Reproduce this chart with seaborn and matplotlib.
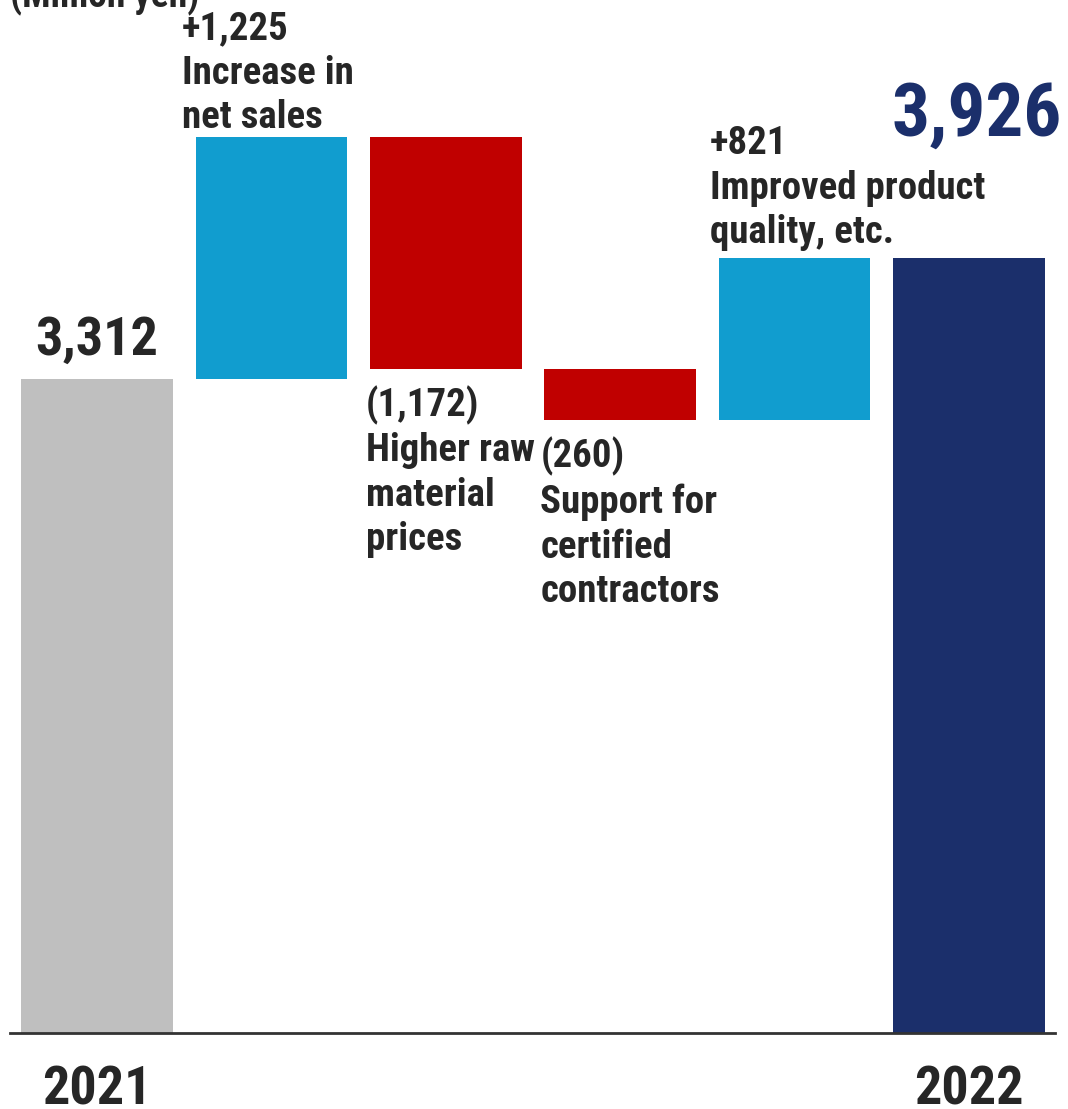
import matplotlib
matplotlib.use("Agg")
import matplotlib.pyplot as plt
import seaborn as sns
from matplotlib import font_manager

# Operating income bridge, FY2021 -> FY2022 (million yen)
steps = ["2021", "Increase in net sales", "Higher raw material prices",
         "Support for certified contractors", "Improved product quality, etc.", "2022"]
start_value = 3312
changes = [1225, -1172, -260, 821]
end_value = 3926
change_captions = ["Increase in\nnet sales", "Higher raw\nmaterial\nprices",
                   "Support for\ncertified\ncontractors", "Improved product\nquality, etc."]
tick_labels = ["2021", "", "", "", "", "2022"]
unit_label = "(Million yen)"

bar_colors = ["#BFBFBF", "#119DCF", "#C00000", "#C00000", "#119DCF", "#1B2F6B"]
text_color = "#262626"
total_color = "#1B2F6B"

sns.set_theme(style="white")
available = {f.name for f in font_manager.fontManager.ttflist}
narrow = [n for n in ["Roboto Condensed", "Archivo Narrow", "Asap Condensed",
                      "Barlow Semi Condensed"] if n in available]
plt.rcParams["font.family"] = narrow[:1] + ["DejaVu Sans"]
plt.rcParams["font.weight"] = "bold"

# Floating bar extents
bottoms, heights = [0], [start_value]
level = start_value
for c in changes:
    new_level = level + c
    bottoms.append(min(level, new_level))
    heights.append(abs(c))
    level = new_level
bottoms.append(0)
heights.append(end_value)

fig = plt.figure(figsize=(10.68, 11.09), dpi=100)
ax = fig.add_axes([10 / 1068, 76 / 1109, 1045 / 1068, 1033 / 1109])

sns.barplot(x=steps, y=heights, bottom=bottoms, color=bar_colors[0],
            facecolor=bar_colors, saturation=1,
            width=0.87, errorbar=None, linewidth=0, edgecolor="none", ax=ax)

ax.set_xlim(-0.499, 5.493)
ax.set_ylim(0, 5232)
ax.set_yticks([])
ax.set_ylabel("")
for s in ["left", "right", "top"]:
    ax.spines[s].set_visible(False)
ax.spines["bottom"].set_color("#333333")
ax.spines["bottom"].set_linewidth(2)
ax.set_xticks(range(len(steps)))
ax.set_xticklabels(tick_labels, fontsize=39, color=text_color, fontweight="bold")
ax.tick_params(axis="x", length=0, pad=23)

half = 0.87 / 2
body = dict(fontsize=28, color=text_color, fontweight="bold", linespacing=1.25)

# Start and end totals
ax.annotate(f"{start_value:,}", xy=(0, start_value), xytext=(0, 24),
            textcoords="offset pixels", ha="center", va="baseline",
            fontsize=39, color=text_color, fontweight="bold")
ax.annotate(f"{end_value:,}", xy=(5, end_value), xytext=(8, 122),
            textcoords="offset pixels", ha="center", va="baseline",
            fontsize=54, color=total_color, fontweight="bold")

# Change captions
level = start_value
for i, (c, cap) in enumerate(zip(changes, change_captions), start=1):
    new_level = level + c
    left = i - half
    if c > 0:
        dx, dy = (-14, 1) if i == 1 else (-9, 7)
        ax.annotate(f"+{c:,}\n{cap}", xy=(left, max(level, new_level)),
                    xytext=(dx, dy), textcoords="offset pixels",
                    ha="left", va="bottom", **body)
    else:
        ax.annotate(f"({abs(c):,})\n{cap}", xy=(left, min(level, new_level)),
                    xytext=(-4, -17), textcoords="offset pixels",
                    ha="left", va="top", **body)
    level = new_level

fig.text(10 / 1068, 1 - 7 / 1109, unit_label, ha="left", va="baseline",
         fontsize=27, color=text_color, fontweight="bold")

fig.savefig("out.png", dpi=100, facecolor="white")
